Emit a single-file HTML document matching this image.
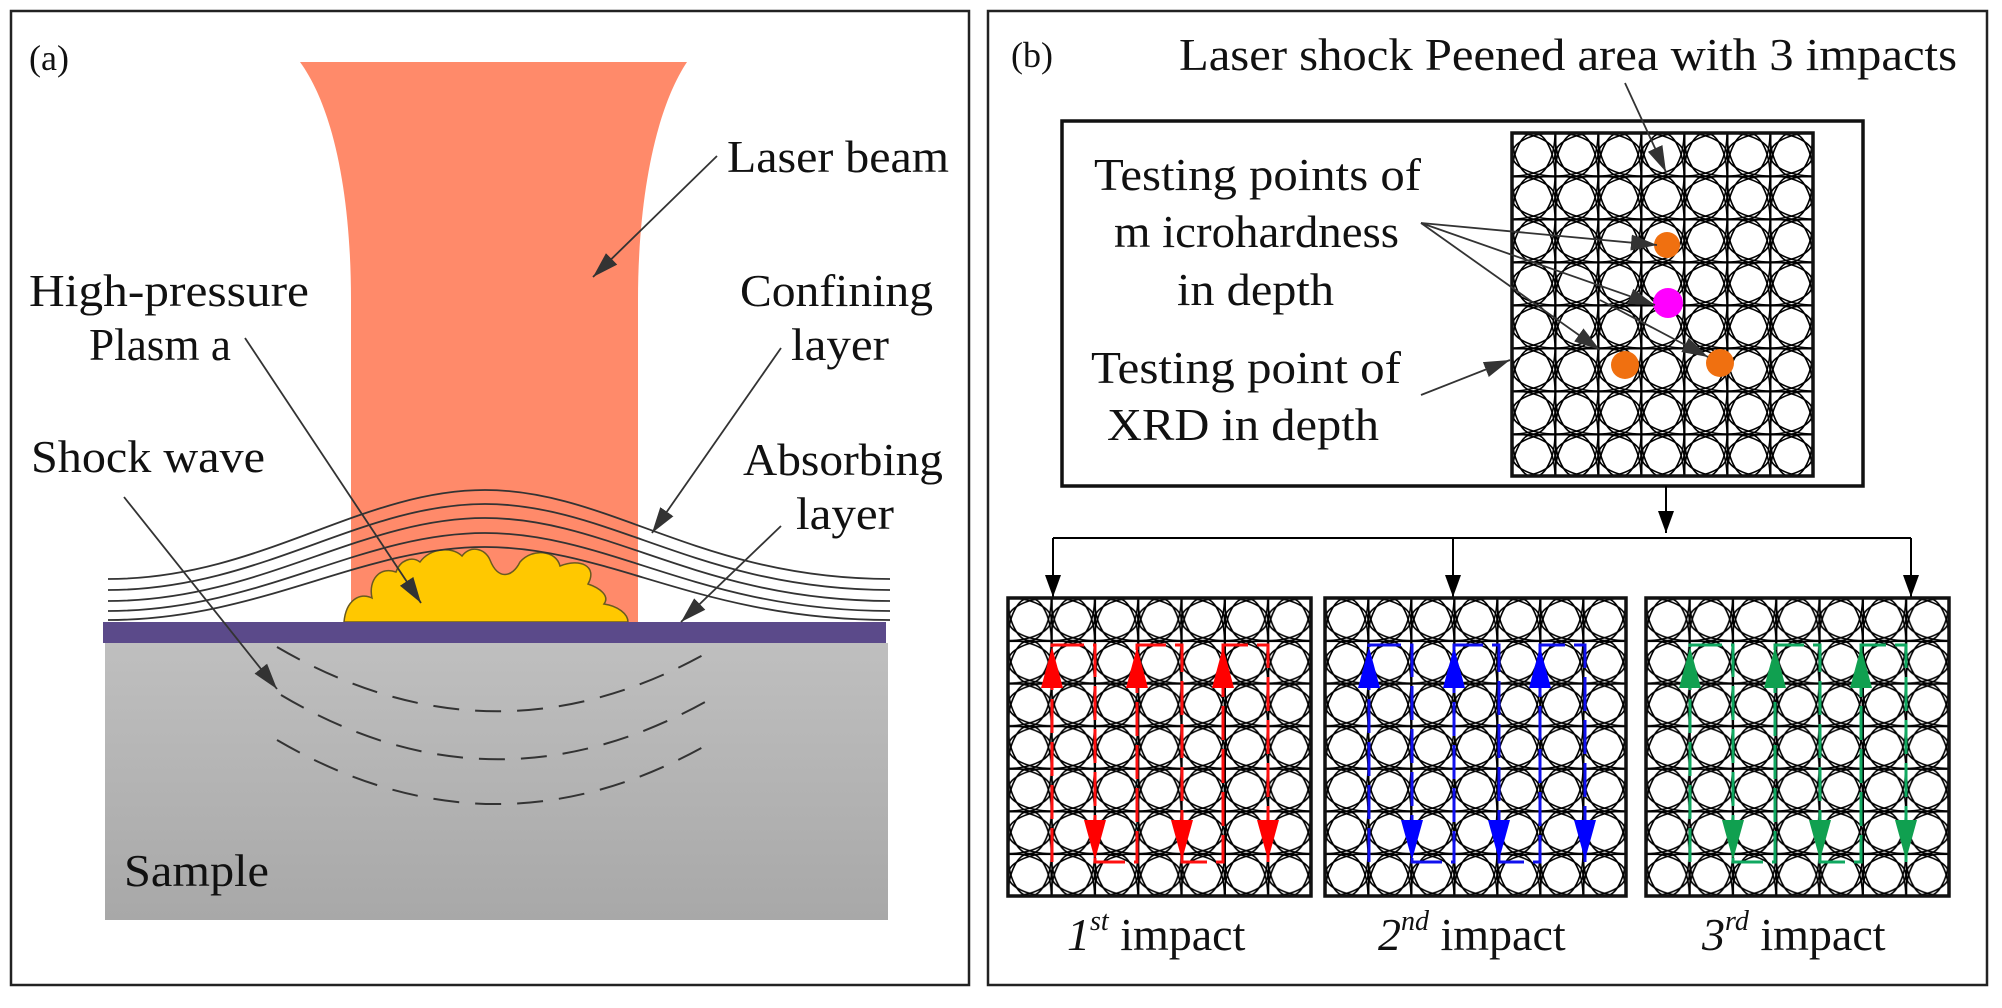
<!DOCTYPE html>
<html><head><meta charset="utf-8"><style>
html,body{margin:0;padding:0;background:#fff;}
svg{display:block;}
text{font-family:"Liberation Serif","DejaVu Serif",serif;fill:#111;}
</style></head><body>
<svg width="2002" height="1008" viewBox="0 0 2002 1008" xmlns="http://www.w3.org/2000/svg">
<defs>
<marker id="ah" markerUnits="userSpaceOnUse" markerWidth="28" markerHeight="20" refX="26" refY="10" orient="auto">
<path d="M0,2 L26,10 L0,18 Z" fill="#333"/></marker>
<marker id="ak" markerUnits="userSpaceOnUse" markerWidth="24" markerHeight="20" refX="22" refY="10" orient="auto">
<path d="M0,2 L22,10 L0,18 Z" fill="#000"/></marker>
<linearGradient id="sg" x1="0" y1="0" x2="0" y2="1"><stop offset="0" stop-color="#bfbfbf"/><stop offset="1" stop-color="#a8a8a8"/></linearGradient>
<g id="tile">
</g>
<pattern id="p0" patternUnits="userSpaceOnUse" x="1512" y="133" width="43" height="43">
<g fill="none" stroke="#000" stroke-width="1.6">
<ellipse cx="21.5" cy="0" rx="21.5" ry="43"/><ellipse cx="21.5" cy="43" rx="21.5" ry="43"/>
<ellipse cx="0" cy="21.5" rx="43" ry="21.5"/><ellipse cx="43" cy="21.5" rx="43" ry="21.5"/>
<path d="M0,0.5 H43 M0.5,0 V43" stroke-width="2"/></g></pattern>
<pattern id="p1" patternUnits="userSpaceOnUse" x="1008" y="598" width="43.3" height="42.6">
<g fill="none" stroke="#000" stroke-width="1.6">
<ellipse cx="21.65" cy="0" rx="21.65" ry="42.6"/><ellipse cx="21.65" cy="42.6" rx="21.65" ry="42.6"/>
<ellipse cx="0" cy="21.3" rx="43.3" ry="21.3"/><ellipse cx="43.3" cy="21.3" rx="43.3" ry="21.3"/>
<path d="M0,0.5 H43.3 M0.5,0 V42.6" stroke-width="2"/></g></pattern>
<pattern id="p2" patternUnits="userSpaceOnUse" x="1325" y="598" width="43" height="42.6">
<g fill="none" stroke="#000" stroke-width="1.6">
<ellipse cx="21.5" cy="0" rx="21.5" ry="42.6"/><ellipse cx="21.5" cy="42.6" rx="21.5" ry="42.6"/>
<ellipse cx="0" cy="21.3" rx="43" ry="21.3"/><ellipse cx="43" cy="21.3" rx="43" ry="21.3"/>
<path d="M0,0.5 H43 M0.5,0 V42.6" stroke-width="2"/></g></pattern>
<pattern id="p3" patternUnits="userSpaceOnUse" x="1646" y="598" width="43.3" height="42.6">
<g fill="none" stroke="#000" stroke-width="1.6">
<ellipse cx="21.65" cy="0" rx="21.65" ry="42.6"/><ellipse cx="21.65" cy="42.6" rx="21.65" ry="42.6"/>
<ellipse cx="0" cy="21.3" rx="43.3" ry="21.3"/><ellipse cx="43.3" cy="21.3" rx="43.3" ry="21.3"/>
<path d="M0,0.5 H43.3 M0.5,0 V42.6" stroke-width="2"/></g></pattern>
</defs>

<!-- Panel frames -->
<rect x="11" y="11" width="958" height="974" fill="none" stroke="#222" stroke-width="2.5"/>
<rect x="988" y="11" width="999" height="974" fill="none" stroke="#222" stroke-width="2.5"/>

<!-- Panel (a) -->
<text x="29" y="70" font-size="36">(a)</text>
<path d="M300,62 L687,62 C655,110 638,200 638,300 L638,622 L351,622 L351,300 C351,200 335,110 300,62 Z" fill="#ff8a6a"/>
<rect x="105" y="643" width="783" height="277" fill="url(#sg)"/>
<path d="M344,622 C346,600 360,592 372,598 C368,580 380,566 396,572 C400,560 412,556 420,562 C430,548 452,546 462,556 C470,545 485,548 490,560 C498,580 512,578 520,562 C532,548 556,550 560,566 C580,558 598,566 588,584 C600,588 610,596 604,604 C618,606 628,614 628,622 Z" fill="#ffc800" stroke="#6a5a20" stroke-width="1.5"/>
<g fill="none" stroke="#333" stroke-width="1.8">
<path d="M108,579 C260,579 360,490 485,490 C610,490 700,579 890,579"/>
<path d="M108,590 C260,590 360,504 485,504 C610,504 700,590 890,590"/>
<path d="M108,601 C260,601 360,518 485,518 C610,518 700,601 890,601"/>
<path d="M108,611 C260,611 360,533 485,533 C610,533 700,611 890,611"/>
<path d="M108,620 C260,620 360,547 485,547 C610,547 700,620 890,620"/>
</g>
<rect x="103" y="622" width="783" height="21" fill="#5b4a8a"/>
<g fill="none" stroke="#333" stroke-width="2" stroke-dasharray="26,16">
<path d="M277,647 Q491,772 705,654"/>
<path d="M281,695 Q491,820 705,702"/>
<path d="M277,740 Q491,865 705,746"/>
</g>
<g stroke="#333" stroke-width="1.8" fill="none" marker-end="url(#ah)">
<line x1="717" y1="156" x2="593" y2="277"/>
<line x1="245" y1="338" x2="421" y2="603"/>
<line x1="781" y1="348" x2="652" y2="533"/>
<line x1="781" y1="526" x2="681" y2="622"/>
<line x1="124" y1="497" x2="277" y2="689"/>
</g>
<text x="727" y="172" font-size="46" textLength="222" lengthAdjust="spacingAndGlyphs">Laser beam</text>
<text x="29" y="306" font-size="46" textLength="280" lengthAdjust="spacingAndGlyphs">High-pressure</text>
<text x="89" y="360" font-size="46" textLength="142" lengthAdjust="spacingAndGlyphs">Plasm a</text>
<text x="740" y="306" font-size="46" textLength="193" lengthAdjust="spacingAndGlyphs">Confining</text>
<text x="791" y="360" font-size="46" textLength="98" lengthAdjust="spacingAndGlyphs">layer</text>
<text x="31" y="472" font-size="46" textLength="234" lengthAdjust="spacingAndGlyphs">Shock wave</text>
<text x="743" y="475" font-size="46" textLength="200" lengthAdjust="spacingAndGlyphs">Absorbing</text>
<text x="796" y="529" font-size="46" textLength="98" lengthAdjust="spacingAndGlyphs">layer</text>
<text x="124" y="886" font-size="46" textLength="145" lengthAdjust="spacingAndGlyphs">Sample</text>

<!-- Panel (b) -->
<text x="1011" y="67" font-size="36">(b)</text>
<text x="1179" y="70" font-size="46" textLength="778" lengthAdjust="spacingAndGlyphs">Laser shock Peened area with 3 impacts</text>
<rect x="1062" y="121" width="801" height="365" fill="none" stroke="#111" stroke-width="3.5"/>
<rect x="1512" y="133" width="301" height="343" fill="url(#p0)"/>
<rect x="1512" y="133" width="301" height="343" fill="none" stroke="#111" stroke-width="3.5"/>
<text x="1094" y="190" font-size="46" textLength="327" lengthAdjust="spacingAndGlyphs">Testing points of</text>
<text x="1114" y="247" font-size="46" textLength="285" lengthAdjust="spacingAndGlyphs">m icrohardness</text>
<text x="1177" y="305" font-size="46" textLength="157" lengthAdjust="spacingAndGlyphs">in depth</text>
<text x="1091" y="383" font-size="46" textLength="310" lengthAdjust="spacingAndGlyphs">Testing point of</text>
<text x="1107" y="440" font-size="46" textLength="272" lengthAdjust="spacingAndGlyphs">XRD in depth</text>
<circle cx="1667" cy="245" r="13" fill="#f07010"/>
<circle cx="1668" cy="303" r="15" fill="#ff00ff"/>
<circle cx="1625" cy="365" r="14" fill="#f07010"/>
<circle cx="1720" cy="363" r="14" fill="#f07010"/>
<g stroke="#333" stroke-width="1.8" fill="none" marker-end="url(#ah)">
<line x1="1625" y1="83" x2="1666" y2="172"/>
<line x1="1421" y1="223" x2="1657" y2="245"/>
<line x1="1421" y1="223" x2="1655" y2="305"/>
<line x1="1421" y1="223" x2="1600" y2="350"/>
<line x1="1421" y1="395" x2="1510" y2="360"/>
<line x1="1600" y1="300" x2="1708" y2="357"/>
</g>
<!-- connectors -->
<g stroke="#000" stroke-width="2" fill="none">
<line x1="1666" y1="486" x2="1666" y2="533" marker-end="url(#ak)"/>
<line x1="1053" y1="538" x2="1911" y2="538"/>
<line x1="1053" y1="538" x2="1053" y2="597" marker-end="url(#ak)"/>
<line x1="1453" y1="538" x2="1453" y2="597" marker-end="url(#ak)"/>
<line x1="1911" y1="538" x2="1911" y2="597" marker-end="url(#ak)"/>
</g>
<!-- lower boxes -->
<rect x="1008" y="598" width="303" height="298" fill="url(#p1)"/>
<rect x="1325" y="598" width="301" height="298" fill="url(#p2)"/>
<rect x="1646" y="598" width="303" height="298" fill="url(#p3)"/>
<g fill="none" stroke-width="3">
<path d="M1052,862 V645 H1095 V862 H1137 V645 H1182 V862 H1223 V645 H1268 V862" stroke="#ff1010" stroke-dasharray="34,9"/>
<path d="M1369,862 V645 H1412 V862 H1454 V645 H1499 V862 H1540 V645 H1585 V862" stroke="#1010ee" stroke-dasharray="34,9"/>
<path d="M1690,862 V645 H1733 V862 H1775 V645 H1820 V862 H1861 V645 H1906 V862" stroke="#10a860" stroke-dasharray="34,9"/>
</g>
<g fill="#ff0000">
<path d="M1052,647 L1063,688 L1041,688 Z"/><path d="M1137,647 L1148,688 L1126,688 Z"/><path d="M1223,647 L1234,688 L1212,688 Z"/>
<path d="M1095,860 L1106,820 L1084,820 Z"/><path d="M1182,860 L1193,820 L1171,820 Z"/><path d="M1268,860 L1279,820 L1257,820 Z"/>
</g>
<g fill="#0000ff">
<path d="M1369,647 L1380,688 L1358,688 Z"/><path d="M1454,647 L1465,688 L1443,688 Z"/><path d="M1540,647 L1551,688 L1529,688 Z"/>
<path d="M1412,860 L1423,820 L1401,820 Z"/><path d="M1499,860 L1510,820 L1488,820 Z"/><path d="M1585,860 L1596,820 L1574,820 Z"/>
</g>
<g fill="#10a050">
<path d="M1690,647 L1701,688 L1679,688 Z"/><path d="M1775,647 L1786,688 L1764,688 Z"/><path d="M1861,647 L1872,688 L1850,688 Z"/>
<path d="M1733,860 L1744,820 L1722,820 Z"/><path d="M1820,860 L1831,820 L1809,820 Z"/><path d="M1906,860 L1917,820 L1895,820 Z"/>
</g>
<g fill="none" stroke="#111" stroke-width="3.5">
<rect x="1008" y="598" width="303" height="298"/>
<rect x="1325" y="598" width="301" height="298"/>
<rect x="1646" y="598" width="303" height="298"/>
</g>
<text x="1067" y="950" font-size="46"><tspan font-style="italic">1</tspan><tspan font-style="italic" font-size="28" dy="-20">st</tspan><tspan dy="20"> impact</tspan></text>
<text x="1378" y="950" font-size="46"><tspan font-style="italic">2</tspan><tspan font-style="italic" font-size="28" dy="-20">nd</tspan><tspan dy="20"> impact</tspan></text>
<text x="1702" y="950" font-size="46"><tspan font-style="italic">3</tspan><tspan font-style="italic" font-size="28" dy="-20">rd</tspan><tspan dy="20"> impact</tspan></text>
</svg>
</body></html>
